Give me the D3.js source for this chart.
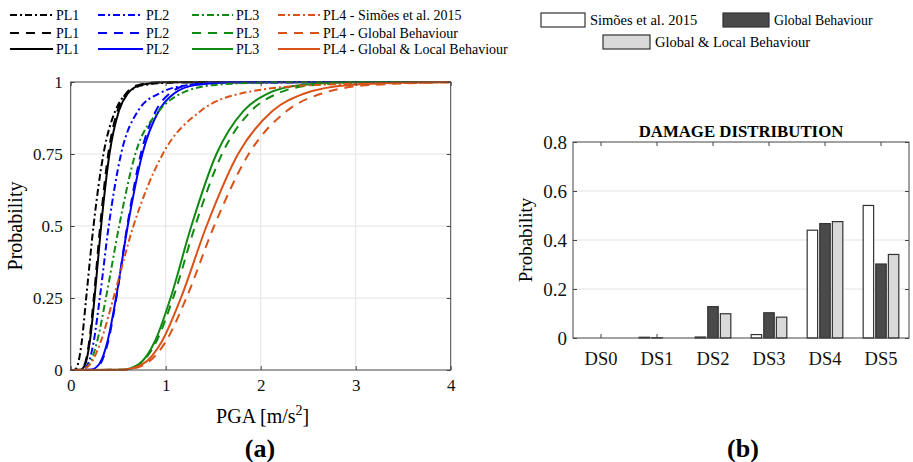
<!DOCTYPE html>
<html>
<head>
<meta charset="utf-8">
<script src="https://cdn.jsdelivr.net/npm/d3@7"></script>
<style>
  html, body { margin: 0; padding: 0; background: white; }
  svg { display: block; font-family: "Liberation Serif", "Times New Roman", serif; }
  .axis path.domain { display: none; }
  .axis line { stroke: #444; }
  .axis text { fill: #111; }
</style>
</head>
<body>
<svg width="913" height="462"></svg>
<script>
// === Data

const PGA_TICKS = [0, 1, 2, 3, 4];
const PROB_TICKS = [0, 0.25, 0.5, 0.75, 1];
const PROB_LEVELS = [0.001, 0.02, 0.1, 0.25, 0.5, 0.75, 0.9, 0.96, 0.99, 0.999];

// PGA [m/s2] at which each fragility curve reaches PROB_LEVELS
const PL1_SIMOES = [0.044, 0.076, 0.117, 0.163, 0.24, 0.345, 0.47, 0.59, 0.78, 1.15];
const PL1_GLOBAL = [0.102, 0.148, 0.195, 0.243, 0.31, 0.395, 0.492, 0.582, 0.716, 0.942];
const PL1_GLOBAL_LOCAL = [0.105, 0.153, 0.202, 0.251, 0.32, 0.408, 0.508, 0.601, 0.739, 0.973];
const PL2_SIMOES = [0.122, 0.18, 0.243, 0.306, 0.40, 0.53, 0.71, 0.93, 1.26, 1.9];
const PL2_GLOBAL = [0.221, 0.308, 0.395, 0.480, 0.595, 0.738, 0.897, 1.042, 1.252, 1.60];
const PL2_GLOBAL_LOCAL = [0.210, 0.299, 0.388, 0.477, 0.600, 0.754, 0.928, 1.088, 1.323, 1.716];
const PL3_SIMOES = [0.119, 0.194, 0.279, 0.371, 0.51, 0.68, 0.932, 1.161, 1.522, 2.18];
const PL3_GLOBAL = [0.545, 0.722, 0.903, 1.078, 1.31, 1.592, 1.901, 2.177, 2.573, 3.21];
const PL3_GLOBAL_LOCAL = [0.535, 0.715, 0.887, 1.051, 1.27, 1.534, 1.819, 2.073, 2.436, 3.016];
const PL4_SIMOES = [0.113, 0.205, 0.318, 0.45, 0.66, 0.969, 1.371, 1.79, 2.6, 3.9];
const PL4_GLOBAL = [0.562, 0.782, 1.003, 1.217, 1.51, 1.874, 2.276, 2.644, 3.179, 4.06];
const PL4_GLOBAL_LOCAL = [0.549, 0.756, 0.961, 1.160, 1.43, 1.762, 2.126, 2.461, 2.940, 3.727];

const LEGEND_LABELS = [
  ['PL1', 'PL1', 'PL1'],
  ['PL2', 'PL2', 'PL2'],
  ['PL3', 'PL3', 'PL3'],
  ['PL4 - Simões et al. 2015', 'PL4 - Global Behaviour', 'PL4 - Global & Local Behaviour']
];

const DAMAGE_STATES = ['DS0', 'DS1', 'DS2', 'DS3', 'DS4', 'DS5'];
const DAMAGE_TICKS = [0, 0.2, 0.4, 0.6, 0.8];
const BAR_SERIES = ['Simões et al. 2015', 'Global Behaviour', 'Global & Local Behaviour'];
const DAMAGE_SIMOES = [0, 0.003, 0.004, 0.014, 0.440, 0.541];
const DAMAGE_GLOBAL = [0, 0.001, 0.128, 0.103, 0.467, 0.302];
const DAMAGE_GLOBAL_LOCAL = [0, 0, 0.099, 0.085, 0.475, 0.341];


// === Config

const FONT_TICK = 17;
const FONT_LABEL = 20;
const LINE_WIDTH = 2;
const GROUP_COLORS = ['#000000', '#0000ff', '#108a10', '#d95319'];
const DASHES = ['7,3,2,3', '9,7', null];
const BAR_FILLS = ['#ffffff', '#4a4a4a', '#d9d9d9'];
const BAR_STROKE = '#333333';
const GRID_COLOR = '#e3e3e3';
const AXIS_COLOR = '#444444';

const LEFT = { x: 70.7, y: 82, width: 380, height: 288 };
const RIGHT = { x: 573, y: 142, width: 336, height: 196 };


// === Main stuff

function main() {
  const svg = d3.select('svg');

  drawFragility(svg);
  drawDamage(svg);
  drawLegends(svg);

  // panel captions
  svg.append('text')
    .attr('x', 260).attr('y', 457)
    .attr('text-anchor', 'middle')
    .attr('font-size', 26).attr('font-weight', 'bold')
    .text('(a)');
  svg.append('text')
    .attr('x', 743).attr('y', 457)
    .attr('text-anchor', 'middle')
    .attr('font-size', 26).attr('font-weight', 'bold')
    .text('(b)');
}

// d3 axes put a sans-serif font on their group; drop it so the page font is used
function styleAxis(sel, size) {
  sel.attr('font-family', null).attr('font-size', size);
}

function drawFragility(svg) {
  const g = svg.append('g')
    .attr('transform', `translate(${LEFT.x},${LEFT.y})`);

  const x = d3.scaleLinear().domain([0, 4]).range([0, LEFT.width]);
  const y = d3.scaleLinear().domain([0, 1]).range([LEFT.height, 0]);

  // grid
  g.append('g').selectAll('line')
    .data(PGA_TICKS.slice(1, -1))
    .enter().append('line')
    .attr('x1', d => x(d)).attr('x2', d => x(d))
    .attr('y1', 0).attr('y2', LEFT.height)
    .attr('stroke', GRID_COLOR);
  g.append('g').selectAll('line')
    .data(PROB_TICKS.slice(1, -1))
    .enter().append('line')
    .attr('x1', 0).attr('x2', LEFT.width)
    .attr('y1', d => y(d)).attr('y2', d => y(d))
    .attr('stroke', GRID_COLOR);

  // curves
  const groups = [
    [PL1_SIMOES, PL1_GLOBAL, PL1_GLOBAL_LOCAL],
    [PL2_SIMOES, PL2_GLOBAL, PL2_GLOBAL_LOCAL],
    [PL3_SIMOES, PL3_GLOBAL, PL3_GLOBAL_LOCAL],
    [PL4_SIMOES, PL4_GLOBAL, PL4_GLOBAL_LOCAL]
  ];
  const line = d3.line()
    .x(d => x(d[0]))
    .y(d => y(d[1]))
    .curve(d3.curveMonotoneX);

  g.append('clipPath').attr('id', 'clip-a')
    .append('rect').attr('width', LEFT.width).attr('height', LEFT.height + 2).attr('y', -1);

  const curves = g.append('g').attr('clip-path', 'url(#clip-a)');
  groups.forEach(function(group, gi) {
    group.forEach(function(values, si) {
      const pts = values.map((v, i) => [v, PROB_LEVELS[i]]);
      pts.unshift([0, 0]);
      if (pts[pts.length - 1][0] < 4) pts.push([4, 1]);
      curves.append('path')
        .attr('d', line(pts))
        .attr('fill', 'none')
        .attr('stroke', GROUP_COLORS[gi])
        .attr('stroke-width', LINE_WIDTH)
        .attr('stroke-dasharray', DASHES[si]);
    });
  });

  // axes (ticks inside, like the original)
  g.append('g').attr('class', 'axis')
    .attr('transform', `translate(0,${LEFT.height})`)
    .call(d3.axisBottom(x).tickValues(PGA_TICKS).tickSize(-4).tickPadding(9).tickFormat(d3.format('d')))
    .call(styleAxis, FONT_TICK);
  g.append('g').attr('class', 'axis')
    .call(d3.axisTop(x).tickValues(PGA_TICKS).tickSize(-4).tickFormat(''));
  g.append('g').attr('class', 'axis')
    .call(d3.axisLeft(y).tickValues(PROB_TICKS).tickSize(-4).tickPadding(8).tickFormat(d => String(d)))
    .call(styleAxis, FONT_TICK);
  g.append('g').attr('class', 'axis')
    .attr('transform', `translate(${LEFT.width},0)`)
    .call(d3.axisRight(y).tickValues(PROB_TICKS).tickSize(-4).tickFormat(''));

  g.append('rect')
    .attr('width', LEFT.width).attr('height', LEFT.height)
    .attr('fill', 'none').attr('stroke', AXIS_COLOR);

  // labels
  const xl = g.append('text')
    .attr('x', LEFT.width / 2 + 2).attr('y', LEFT.height + 53)
    .attr('text-anchor', 'middle')
    .attr('font-size', FONT_LABEL);
  xl.append('tspan').text('PGA [m/s');
  xl.append('tspan').attr('dy', -8).attr('font-size', 14).text('2');
  xl.append('tspan').attr('dy', 8).text(']');

  g.append('text')
    .attr('transform', `translate(${-LEFT.x + 22},${LEFT.height / 2}) rotate(-90)`)
    .attr('text-anchor', 'middle')
    .attr('font-size', FONT_LABEL)
    .text('Probability');
}

function drawDamage(svg) {
  const g = svg.append('g')
    .attr('transform', `translate(${RIGHT.x},${RIGHT.y})`);

  const x0 = d3.scaleBand().domain(DAMAGE_STATES).range([0, RIGHT.width]);
  const groupWidth = x0.bandwidth() * 0.675;
  const x1 = d3.scaleBand().domain(BAR_SERIES)
    .range([-groupWidth / 2, groupWidth / 2])
    .paddingInner(0.17).paddingOuter(0.085);
  const y = d3.scaleLinear().domain([0, 0.8]).range([RIGHT.height, 0]);

  g.append('g').selectAll('line')
    .data(DAMAGE_TICKS.slice(1, -1))
    .enter().append('line')
    .attr('x1', 0).attr('x2', RIGHT.width)
    .attr('y1', d => y(d)).attr('y2', d => y(d))
    .attr('stroke', GRID_COLOR);

  const series = [DAMAGE_SIMOES, DAMAGE_GLOBAL, DAMAGE_GLOBAL_LOCAL];
  series.forEach(function(values, si) {
    g.append('g').selectAll('rect')
      .data(values.map((v, i) => ({ state: DAMAGE_STATES[i], value: v })))
      .enter().append('rect')
      .attr('x', d => x0(d.state) + x0.bandwidth() / 2 + x1(BAR_SERIES[si]))
      .attr('y', d => y(d.value))
      .attr('width', x1.bandwidth())
      .attr('height', d => RIGHT.height - y(d.value))
      .attr('fill', BAR_FILLS[si])
      .attr('stroke', BAR_STROKE)
      .attr('stroke-width', 1.2);
  });

  g.append('g').attr('class', 'axis')
    .attr('transform', `translate(0,${RIGHT.height})`)
    .call(d3.axisBottom(x0).tickSize(-4).tickPadding(14))
    .call(styleAxis, 18.5);
  g.append('g').attr('class', 'axis')
    .call(d3.axisTop(x0).tickSize(-4).tickFormat(''));
  g.append('g').attr('class', 'axis')
    .call(d3.axisLeft(y).tickValues(DAMAGE_TICKS).tickSize(-4).tickPadding(6).tickFormat(d => String(d)))
    .call(styleAxis, 19);
  g.append('g').attr('class', 'axis')
    .attr('transform', `translate(${RIGHT.width},0)`)
    .call(d3.axisRight(y).tickValues(DAMAGE_TICKS).tickSize(-4).tickFormat(''));

  g.append('rect')
    .attr('width', RIGHT.width).attr('height', RIGHT.height)
    .attr('fill', 'none').attr('stroke', AXIS_COLOR);

  g.append('text')
    .attr('x', RIGHT.width / 2).attr('y', -5.5)
    .attr('text-anchor', 'middle')
    .attr('font-size', 16.8).attr('font-weight', 'bold')
    .text('DAMAGE DISTRIBUTION');

  g.append('text')
    .attr('transform', `translate(-41,${RIGHT.height / 2}) rotate(-90)`)
    .attr('text-anchor', 'middle')
    .attr('font-size', 19)
    .text('Probability');
}

function drawLegends(svg) {
  // line legend, 4 columns x 3 rows
  const colLine = [10, 98, 192, 278];
  const colLen = [43, 45, 41, 42];
  const rowY = [15, 33, 49];
  const lg = svg.append('g');
  LEGEND_LABELS.forEach(function(labels, ci) {
    labels.forEach(function(label, ri) {
      lg.append('line')
        .attr('x1', colLine[ci]).attr('x2', colLine[ci] + colLen[ci])
        .attr('y1', rowY[ri]).attr('y2', rowY[ri])
        .attr('stroke', GROUP_COLORS[ci])
        .attr('stroke-width', LINE_WIDTH)
        .attr('stroke-dasharray', DASHES[ri]);
      lg.append('text')
        .attr('x', colLine[ci] + colLen[ci] + 3).attr('y', rowY[ri] + 5)
        .attr('font-size', 14)
        .text(label);
    });
  });

  // bar legend
  const boxes = [
    { x: 541, y: 13, w: 44 },
    { x: 723, y: 13, w: 46 },
    { x: 603, y: 35, w: 47 }
  ];
  BAR_SERIES.forEach(function(name, i) {
    const b = boxes[i];
    svg.append('rect')
      .attr('x', b.x).attr('y', b.y)
      .attr('width', b.w).attr('height', 14)
      .attr('fill', BAR_FILLS[i])
      .attr('stroke', BAR_STROKE).attr('stroke-width', 1.2);
    svg.append('text')
      .attr('x', b.x + b.w + 5).attr('y', b.y + 12)
      .attr('font-size', i === 1 ? 13.8 : 14.5)
      .text(name);
  });
}


// === Init

main();
</script>
</body>
</html>
